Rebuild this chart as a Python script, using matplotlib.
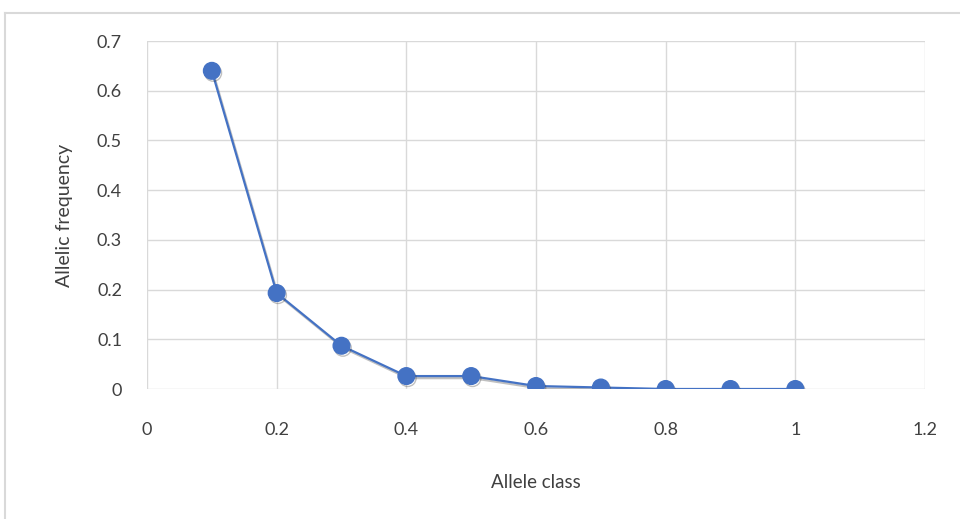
import matplotlib
matplotlib.use("Agg")
import matplotlib.pyplot as plt
import matplotlib.patheffects as pe
from matplotlib.lines import Line2D

allele_class = [0.1, 0.2, 0.3, 0.4, 0.5, 0.6, 0.7, 0.8, 0.9, 1.0]
allelic_frequency = [0.640, 0.193, 0.087, 0.026, 0.026, 0.006, 0.003, 0.0, 0.0, 0.0]
x_ticks = [0, 0.2, 0.4, 0.6, 0.8, 1.0, 1.2]
x_tick_labels = ["0", "0.2", "0.4", "0.6", "0.8", "1", "1.2"]
y_ticks = [0, 0.1, 0.2, 0.3, 0.4, 0.5, 0.6, 0.7]
y_tick_labels = ["0", "0.1", "0.2", "0.3", "0.4", "0.5", "0.6", "0.7"]

plt.rcParams['font.family'] = ['Lato', 'DejaVu Sans']

fig = plt.figure(figsize=(9.6, 5.19), dpi=100)
ax = fig.add_axes([147/960, 1 - 389/519, (925-147)/960, (389-41)/519])

blue = '#4472C4'
ax.plot(allele_class, allelic_frequency, color=blue, lw=1.6, marker='o', ms=12,
        markerfacecolor=blue, markeredgecolor=blue, zorder=3,
        path_effects=[pe.SimpleLineShadow(offset=(1, -1.5), shadow_color='#303030', alpha=0.3), pe.Normal()])

ax.set_xlim(0, 1.2)
ax.set_ylim(0, 0.7)
ax.set_xticks(x_ticks)
ax.set_xticklabels(x_tick_labels)
ax.set_yticks(y_ticks)
ax.set_yticklabels(y_tick_labels)
ax.grid(True, color='#d9d9d9', lw=1)
ax.set_axisbelow(True)
for s in ax.spines.values():
    s.set_visible(False)
ax.tick_params(length=0, labelsize=13)
ax.tick_params(axis='x', pad=24)
ax.tick_params(axis='y', pad=18)
for lbl in ax.get_xticklabels() + ax.get_yticklabels():
    lbl.set_color('#404040')

ax.set_xlabel('Allele class', fontsize=13.5, color='#404040', labelpad=26)
ax.set_ylabel('Allelic frequency', fontsize=14, color='#404040', labelpad=17)

# outer chart border
fig.add_artist(Line2D([5/960, 1], [1 - 13/519, 1 - 13/519], color='#d9d9d9', lw=1.5, transform=fig.transFigure))
fig.add_artist(Line2D([5/960, 5/960], [0, 1 - 13/519], color='#d9d9d9', lw=1.5, transform=fig.transFigure))

fig.savefig('out.png', dpi=100)
